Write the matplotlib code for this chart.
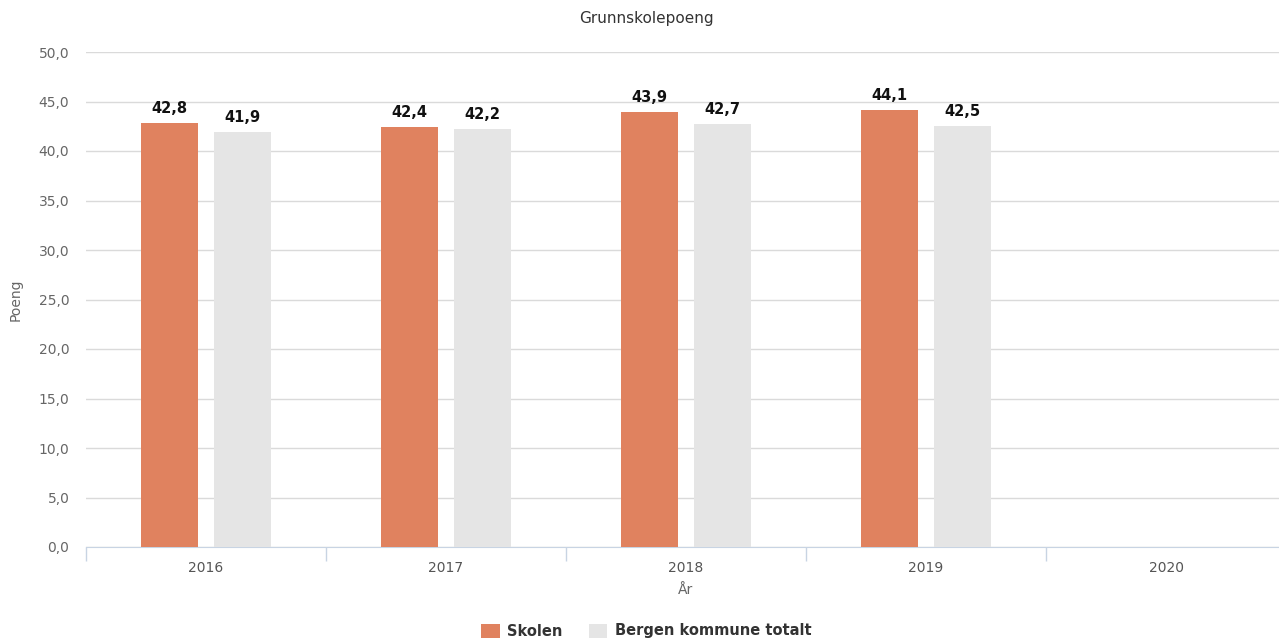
import matplotlib.pyplot as plt
import numpy as np

# data
years = ['2016', '2017', '2018', '2019', '2020']
skolen = [42.8, 42.4, 43.9, 44.1, np.nan]
bergen = [41.9, 42.2, 42.7, 42.5, np.nan]

col_skolen = '#E0825F'
col_bergen = '#E5E5E5'

fig = plt.figure(figsize=(12.79, 6.4), dpi=100)
ax = fig.add_axes([86 / 1279, 1 - 547 / 640, 1200 / 1279, (547 - 52) / 640])

x = np.arange(len(years))
w = 0.24
off = 0.152
b1 = ax.bar(x - off, skolen, w, color=col_skolen, label='Skolen', zorder=3)
b2 = ax.bar(x + off, bergen, w, color=col_bergen, label='Bergen kommune totalt', zorder=3)

# value labels
for bars, vals in [(b1, skolen), (b2, bergen)]:
    for b, v in zip(bars, vals):
        if np.isnan(v):
            continue
        ax.text(b.get_x() + b.get_width() / 2, v + 0.7, f'{v:.1f}'.replace('.', ','),
                ha='center', va='bottom', fontsize=10.5, fontweight='bold', color='#111111')

ax.set_xlim(-0.5, len(years) - 0.5)
ax.set_ylim(0, 50)
yt = np.arange(0, 51, 5)
ax.set_yticks(yt)
ax.set_yticklabels([f'{t:.1f}'.replace('.', ',') for t in yt], fontsize=10, color='#666666')
ax.tick_params(axis='y', length=0, pad=12)
ax.grid(axis='y', color='#DADADA', linewidth=1, zorder=0)

# category labels in the middle, tick marks on boundaries
ax.set_xticks(np.arange(-0.5, len(years), 1))
ax.set_xticklabels([])
ax.set_xticks(x, minor=True)
ax.set_xticklabels(years, minor=True, fontsize=10, color='#555555')
ax.tick_params(axis='x', which='major', length=10, color='#C8D4E3', width=1)
ax.tick_params(axis='x', which='minor', length=0, pad=10)

for s in ['top', 'right', 'left']:
    ax.spines[s].set_visible(False)
ax.spines['bottom'].set_color('#C8D4E3')

ax.set_xlabel('År', fontsize=10, color='#666666', labelpad=6)
ax.set_ylabel('Poeng', fontsize=10, color='#666666')
ax.yaxis.set_label_coords(-0.053, 0.5)

fig.text(646 / 1279, 1 - 19 / 640, 'Grunnskolepoeng', ha='center', va='center',
         fontsize=11, color='#333333')

leg = fig.legend(handles=[b1, b2], loc='center', bbox_to_anchor=(646 / 1279, 1 - 631 / 640),
                 ncol=2, frameon=False, fontsize=10.5, handlelength=1.3, handleheight=1.1,
                 columnspacing=1.8, handletextpad=0.5)
for t in leg.get_texts():
    t.set_fontweight('bold')
    t.set_color('#333333')

fig.savefig('out.png', dpi=100)
